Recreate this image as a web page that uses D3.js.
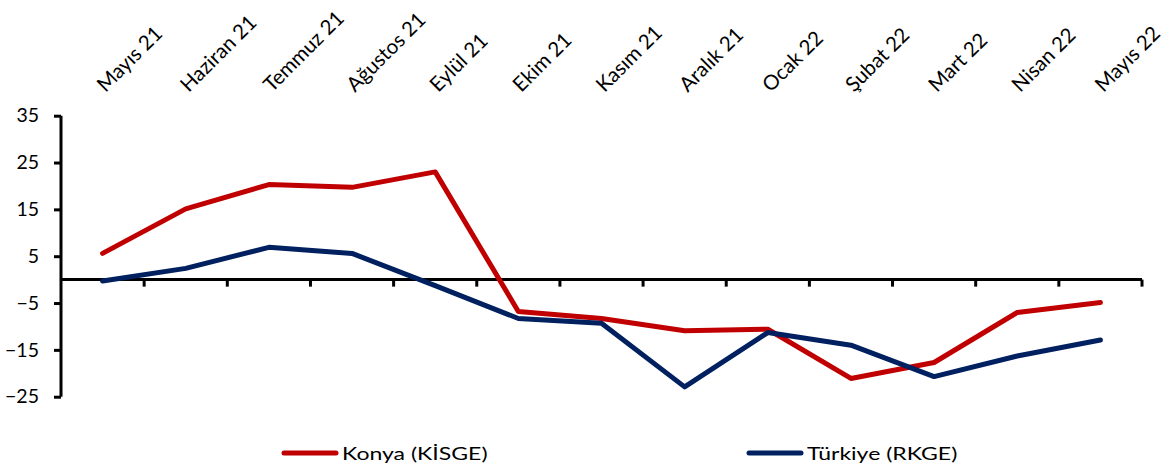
<!DOCTYPE html>
<html><head><meta charset="utf-8">
<script src="https://cdn.jsdelivr.net/npm/d3@7/dist/d3.min.js"></script>
<style>body{margin:0;background:#fff}svg{display:block}text{font-family:Lato,"Open Sans",sans-serif;fill:#000}</style>
</head><body><svg id="c" width="1171" height="468"></svg>
<script>
const categories = ["Mayıs 21","Haziran 21","Temmuz 21","Ağustos 21","Eylül 21","Ekim 21","Kasım 21","Aralık 21","Ocak 22","Şubat 22","Mart 22","Nisan 22","Mayıs 22"];
const konya = [5.6,15.1,20.3,19.7,23.0,-6.8,-8.3,-10.9,-10.6,-21.1,-17.7,-7.0,-4.9];
const turkiye = [-0.3,2.4,6.9,5.6,-1.3,-8.3,-9.3,-22.9,-11.3,-14.0,-20.7,-16.3,-12.9];
const yTicks = [35,25,15,5,-5,-15,-25];
const seriesNames = ["Konya (KİSGE)","Türkiye (RKGE)"];
const colors = ["#C00000","#002060"];

const svg = d3.select("#c");
const x = d3.scaleBand().domain(categories).range([61,1142]);
const y = d3.scaleLinear().domain([-25,35]).range([396.7,115.7]);

// y axis
const ya = svg.append("g").attr("transform","translate(61,0)")
  .call(d3.axisLeft(y).tickValues(yTicks).tickSize(6).tickPadding(16));
ya.select(".domain").attr("stroke","#000").attr("stroke-width",3).attr("d",`M0,${y(35)}V${y(-25)}`);
ya.selectAll(".tick line").attr("stroke","#000").attr("stroke-width",3).attr("x1",-7).attr("x2",0);
ya.selectAll(".tick text").attr("font-size",19.5).style("font-family","Lato,'Open Sans',sans-serif");

// x axis at zero
const xa = svg.append("g").attr("transform",`translate(0,${y(0)})`);
xa.append("line").attr("x1",61).attr("x2",1142).attr("y1",0).attr("y2",0).attr("stroke","#000").attr("stroke-width",3);
const bounds = categories.map((c)=>x(c)+x.bandwidth());
xa.selectAll("line.tk").data(bounds).enter().append("line").attr("class","tk")
  .attr("x1",d=>d).attr("x2",d=>d).attr("y1",0).attr("y2",7).attr("stroke","#000").attr("stroke-width",3);

// category labels rotated at top
svg.selectAll("text.cat").data(categories).enter().append("text").attr("class","cat")
  .attr("transform",d=>`translate(${x(d)+x.bandwidth()/2+3},${93}) rotate(-45)`)
  .attr("font-size",20.5).attr("text-anchor","start").text(d=>d);

// lines
const line = d3.line().x((d,i)=>x(categories[i])+x.bandwidth()/2).y(d=>y(d));
[konya,turkiye].forEach((s,i)=>{
  svg.append("path").datum(s).attr("d",line).attr("fill","none").attr("stroke",colors[i])
    .attr("stroke-width",5).attr("stroke-linejoin","round").attr("stroke-linecap","round");
});

// legend
const lx = [284,749];
seriesNames.forEach((n,i)=>{
  svg.append("line").attr("x1",lx[i]).attr("x2",lx[i]+52).attr("y1",453).attr("y2",453)
    .attr("stroke",colors[i]).attr("stroke-width",5).attr("stroke-linecap","round");
  svg.append("text").attr("transform",`translate(${lx[i]+58},460) scale(1.28,1)`).attr("font-size",18).text(n);
});
</script></body></html>
